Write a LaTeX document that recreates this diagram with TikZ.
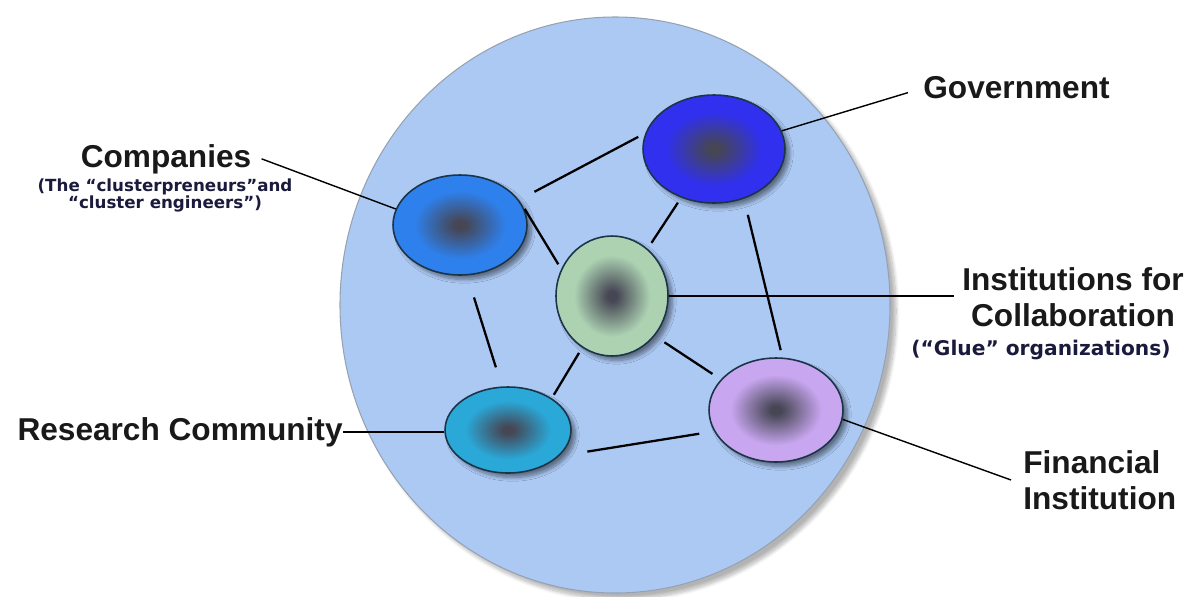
\documentclass[tikz,border=0pt]{standalone}
\usepackage{fontspec}
\setmainfont{Liberation Sans}
\newfontfamily\notefont{DejaVu Sans}
\usetikzlibrary{shapes.geometric,shadows.blur}
\definecolor{clusterblue}{RGB}{172, 201, 244}
\definecolor{clusterrim}{RGB}{150, 162, 178}
\definecolor{orbcore}{RGB}{70, 70, 84}
\definecolor{orbrim}{RGB}{28, 52, 72}
\definecolor{govblue}{RGB}{48, 48, 238}
\definecolor{compblue}{RGB}{46, 128, 236}
\definecolor{gluegreen}{RGB}{172, 210, 178}
\definecolor{resteal}{RGB}{42, 168, 216}
\definecolor{finlilac}{RGB}{200, 166, 240}
\definecolor{notenavy}{RGB}{26, 26, 60}
% dark core fading out to the member colour
\newcommand{\orbshade}[2]{\pgfdeclareradialshading{#1}{\pgfpoint{0bp}{0bp}}{color(0bp)=(orbcore); color(2bp)=(orbcore); color(17bp)=(#2); color(25bp)=(#2); color(50bp)=(#2)}}
\orbshade{govshade}{govblue}
\orbshade{compshade}{compblue}
\orbshade{glueshade}{gluegreen}
\orbshade{resshade}{resteal}
\orbshade{finshade}{finlilac}
\tikzset{
  orb/.style={ellipse, draw=orbrim, line width=0.9pt, shade, inner sep=0pt,
    blur shadow={shadow xshift=0.09cm, shadow yshift=-0.09cm, shadow blur steps=8, shadow opacity=45}},
  link/.style={line width=1.3pt, black},
  tag/.style={line width=0.8pt, black},
  heading/.style={font=\fontsize{18}{20.5}\selectfont\bfseries, text=black!90, inner sep=0pt},
  note/.style={font=\notefont\bfseries\fontsize{9.5}{8.6}\selectfont, text=notenavy, inner sep=0pt},
}
\begin{document}
\begin{tikzpicture}[x=0.02cm, y=-0.02cm]
  \useasboundingbox (0,0) rectangle (1186,596);
  % the cluster
  \fill[clusterblue, draw=clusterrim, line width=0.6pt,
    blur shadow={shadow xshift=0.12cm, shadow yshift=-0.12cm, shadow blur steps=10, shadow opacity=30}]
    (615,305) ellipse (275 and 288);

  % members
  \node[orb, shading=govshade,  minimum width=2.84cm, minimum height=2.16cm] (gov)  at (714,149) {};
  \node[orb, shading=compshade, minimum width=2.68cm, minimum height=2.00cm] (comp) at (460,225) {};
  \node[orb, shading=glueshade, minimum width=2.24cm, minimum height=2.40cm] (glue) at (612,296) {};
  \node[orb, shading=resshade,  minimum width=2.52cm, minimum height=1.72cm] (res)  at (508,430) {};
  \node[orb, shading=finshade,  minimum width=2.68cm, minimum height=2.08cm] (fin)  at (776,410) {};

  % ties between members
  \foreach \a/\b/\s/\e in {comp.23/gov.167/0.35/0.16, gov.236/glue.53/0.12/0.14,
      gov.-59/fin.83/0.33/0.15, comp.19/glue.152/0.12/0.11, comp.-82/res.98/0.46/0.40,
      glue.-120/res.36/0.12/0.08, glue.-43/fin.151/0.23/0.20, res.-27/fin.199/0.57/0.30}
    \draw[link, shorten <=\s cm, shorten >=\e cm] (\a) -- (\b);

  % labels
  \node[heading, inner xsep=0.2cm, anchor=base] (compname) at (166,167) {Companies};
  \node[note, align=center, anchor=north] (compnote) at (165,178)
    {(The “clusterpreneurs”and\\“cluster engineers”)};
  \node[heading, inner xsep=0.3cm, anchor=base west] (govname) at (908,98) {Government};
  \node[heading, inner xsep=0.16cm, align=center, anchor=north] (instname) at (1073,267)
    {Institutions for\\Collaboration};
  \node[note, font=\notefont\bfseries\fontsize{11.5}{13}\selectfont, anchor=base] (gluenote) at (1041,355)
    {(“Glue” organizations)};
  \node[heading, anchor=base east] (resname) at (343,440) {Research Community};
  \node[heading, inner xsep=0.24cm, align=left, anchor=north west] (finname) at (1011,450)
    {Financial\\Institution};

  \draw[tag] (compname.east) -- (comp.166);
  \draw[tag] ([yshift=-0.11cm]govname.west) -- (gov.15);
  \draw[tag] (glue.east) -- (glue.east -| instname.west);
  \draw[tag] (resname.east) -- (resname.east -| res.west);
  \draw[tag] (fin.-8) -- (finname.west);
\end{tikzpicture}
\end{document}
